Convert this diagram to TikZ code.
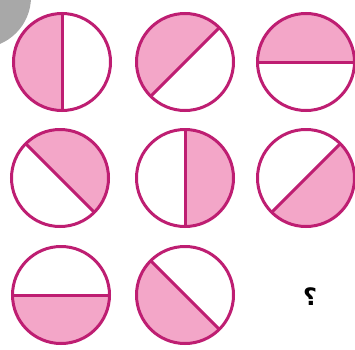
\documentclass[tikz,border=0pt]{standalone}
\usepackage{fontspec}
\newfontfamily\arabicfont[Script=Arabic]{DejaVu Sans}
\TeXXeTstate=1
\definecolor{rimcolor}{RGB}{190,30,114}
\definecolor{halfcolor}{RGB}{243,166,200}
\definecolor{blobcolor}{RGB}{168,168,168}

\begin{document}
\begin{tikzpicture}[
    x=1pt,y=1pt,
    rim/.style={draw=rimcolor,line width=3pt},
    disc/.style={circle,rim,inner sep=0pt,minimum size=97pt,
        path picture={
            \fill[halfcolor] (path picture bounding box.center) ++(#1-90:60pt)
                -- ++(#1:60pt) -- ++(#1+90:120pt) -- ++(#1+180:60pt) -- cycle;
            \draw[rim] (path picture bounding box.center) ++(#1-90:60pt)
                -- ++(#1+90:120pt);
        }}
]
\useasboundingbox (0,0) rectangle (355,349);
\clip (0,0) rectangle (355,349);
\fill[blobcolor] (-20,352) circle (51);

% shaded half turns clockwise by 45 degrees from disc to disc
\foreach \i/\a/\px/\py in {1/180/62/287, 2/135/185/287, 3/90/306/287,
                           4/45/60/171, 5/0/185/171, 6/-45/306/171,
                           7/-90/61/54, 8/-135/185/54}
    \node[disc=\a] (disc\i) at (\px,\py) {};

\node[font=\fontsize{24}{24}\selectfont\bfseries] (ask) at (310,52) {\arabicfont\bfseries\beginR ؟\endR};
\end{tikzpicture}
\end{document}
